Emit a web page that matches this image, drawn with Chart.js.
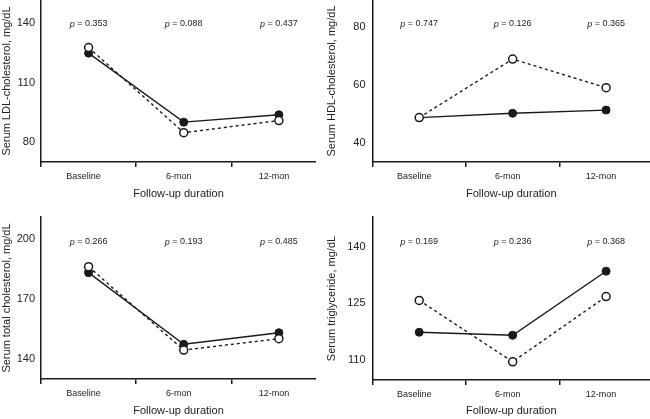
<!DOCTYPE html>
<html><head><meta charset="utf-8">
<script src="https://cdn.jsdelivr.net/npm/chart.js@4.4.1/dist/chart.umd.min.js"></script>
<style>
html,body{margin:0;padding:0;background:#fff;width:650px;height:419px;overflow:hidden;}
canvas{position:absolute;}
</style></head><body>
<canvas id="c1"></canvas><canvas id="c2"></canvas><canvas id="c3"></canvas><canvas id="c4"></canvas>
<script>
// ---- data ----
const categories = ['Baseline', '6-mon', '12-mon'];
const xTitle = 'Follow-up duration';

const ldlTitle = 'Serum LDL-cholesterol, mg/dL';
const ldlFilled = [124.9, 90.1, 93.8];
const ldlOpen = [127.7, 84.8, 90.9];
const ldlP = ['0.353', '0.088', '0.437'];
const ldlTicks = [80, 110, 140];

const hdlTitle = 'Serum HDL-cholesterol, mg/dL';
const hdlFilled = [48.7, 50.2, 51.3];
const hdlOpen = [48.7, 69.0, 59.1];
const hdlP = ['0.747', '0.126', '0.365'];
const hdlTicks = [40, 60, 80];

const tcTitle = 'Serum total cholesterol, mg/dL';
const tcFilled = [183.3, 147.4, 153.2];
const tcOpen = [186.3, 144.5, 150.2];
const tcP = ['0.266', '0.193', '0.485'];
const tcTicks = [140, 170, 200];

const tgTitle = 'Serum triglyceride, mg/dL';
const tgFilled = [117.4, 116.6, 133.5];
const tgOpen = [125.8, 109.6, 126.8];
const tgP = ['0.169', '0.236', '0.368'];
const tgTicks = [110, 125, 140];

// ---- drawing ----
const INK = '#1a1a1a';
const FONT = "'Liberation Sans', Arial, sans-serif";

const pPlugin = {
  id: 'pvals',
  afterDatasetsDraw(chart, args, opts) {
    const ctx = chart.ctx, xs = chart.scales.x;
    const y = chart.chartArea.top + opts.dy;
    ctx.save();
    ctx.fillStyle = '#222';
    ctx.textBaseline = 'middle';
    opts.values.forEach((v, i) => {
      const cx = xs.getPixelForValue(i + 0.5);
      ctx.font = 'italic 9px ' + FONT;
      const w1 = ctx.measureText('p').width;
      ctx.font = '9px ' + FONT;
      const rest = ' = ' + v;
      const w2 = ctx.measureText(rest).width;
      let x = cx - (w1 + w2) / 2;
      ctx.textAlign = 'left';
      ctx.font = 'italic 9px ' + FONT;
      ctx.fillText('p', x, y);
      ctx.font = '9px ' + FONT;
      ctx.fillText(rest, x + w1, y);
    });
    ctx.restore();
  }
};

function makeChart(spec) {
  const cv = document.getElementById(spec.id);
  cv.width = spec.w; cv.height = spec.h;
  cv.style.left = spec.left + 'px'; cv.style.top = spec.top + 'px';
  cv.style.width = spec.w + 'px'; cv.style.height = spec.h + 'px';
  const pts = arr => arr.map((v, i) => ({x: i + 0.5, y: v}));
  new Chart(cv, {
    type: 'line',
    data: {
      datasets: [
        {data: pts(spec.open), borderColor: INK, borderWidth: 1.4, borderDash: [3, 3],
         pointRadius: 4, pointBackgroundColor: '#fff', pointBorderColor: INK, pointBorderWidth: 1.5, tension: 0},
        {data: pts(spec.filled), borderColor: INK, borderWidth: 1.4,
         pointRadius: 4, pointBackgroundColor: INK, pointBorderColor: INK, pointBorderWidth: 1, tension: 0}
      ]
    },
    options: {
      responsive: false, animation: false, events: [],
      layout: {autoPadding: false, padding: {top: spec.padTop, left: 0, right: 0, bottom: 0}},
      plugins: {legend: {display: false}, tooltip: {enabled: false},
        pvals: {values: spec.p, dy: spec.pdy}},
      scales: {
        x: {
          type: 'linear', min: 0, max: spec.xMax,
          afterBuildTicks: s => { s.ticks = [0, 0.5, 1, 1.5, 2, 2.5].map(v => ({value: v})); },
          afterFit: s => { s.height = spec.xh; s.paddingLeft = 0; s.paddingRight = 0; },
          border: {display: true, color: INK, width: 1.5},
          grid: {display: true, drawOnChartArea: false, drawTicks: true, tickLength: 5, lineWidth: 1.5,
            color: c => (c.tick && Number.isInteger(c.tick.value)) ? INK : 'rgba(0,0,0,0)'},
          ticks: {autoSkip: false, maxRotation: 0, padding: 4, labelOffset: -5, color: '#222',
            font: {family: FONT, size: 9},
            callback: v => Number.isInteger(v) ? '' : categories[Math.floor(v)]},
          title: {display: true, text: xTitle, color: '#222', font: {family: FONT, size: 11},
            padding: {top: 0, bottom: spec.xtPad}}
        },
        y: {
          min: spec.yMin, max: spec.yMax,
          afterBuildTicks: s => { s.ticks = spec.ticks.map(v => ({value: v})); },
          afterFit: s => { s.width = spec.yw; s.paddingTop = 0; s.paddingBottom = 0; },
          border: {display: true, color: INK, width: 1.5},
          grid: {display: false, drawTicks: false},
          ticks: {padding: spec.ytPad, color: '#222', font: {family: FONT, size: 11}},
          title: {display: true, text: spec.yTitle, color: '#222', font: {family: FONT, size: 11},
            padding: {top: 0, bottom: 0}}
        }
      }
    },
    plugins: [pPlugin]
  });
}

makeChart({id: 'c1', left: 0, top: 0, w: 316, h: 210, yw: 41, xh: 48, padTop: 0,
  yMin: 70, yMax: 151.7, xMax: 2.89, ticks: ldlTicks, filled: ldlFilled, open: ldlOpen,
  p: ldlP, pdy: 24, yTitle: ldlTitle, xtPad: 9, ytPad: 6});
makeChart({id: 'c2', left: 325, top: 0, w: 325, h: 210, yw: 47.5, xh: 48, padTop: 0,
  yMin: 33.3, yMax: 89.5, xMax: 2.97, ticks: hdlTicks, filled: hdlFilled, open: hdlOpen,
  p: hdlP, pdy: 24, yTitle: hdlTitle, xtPad: 9, ytPad: 7});
makeChart({id: 'c3', left: 0, top: 210, w: 316, h: 209, yw: 41, xh: 40, padTop: 7,
  yMin: 130, yMax: 211.2, xMax: 2.89, ticks: tcTicks, filled: tcFilled, open: tcOpen,
  p: tcP, pdy: 25, yTitle: tcTitle, xtPad: 1.5, ytPad: 6});
makeChart({id: 'c4', left: 325, top: 210, w: 325, h: 209, yw: 47.5, xh: 39, padTop: 7,
  yMin: 104.8, yMax: 147.8, xMax: 2.97, ticks: tgTicks, filled: tgFilled, open: tgOpen,
  p: tgP, pdy: 25, yTitle: tgTitle, xtPad: 1.5, ytPad: 7});
</script>
</body></html>
